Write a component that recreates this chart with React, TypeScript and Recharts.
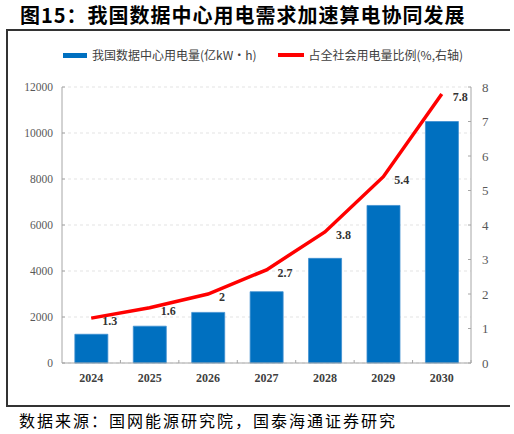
import React from "react";
import {
  ComposedChart,
  Bar,
  Line,
  XAxis,
  YAxis,
  CartesianGrid,
  LabelList,
} from "recharts";

const TITLE = "图15：我国数据中心用电需求加速算电协同发展";
const SOURCE = "数据来源：国网能源研究院，国泰海通证券研究";
const BAR_NAME = "我国数据中心用电量(亿kW·h)";
const LINE_NAME = "占全社会用电量比例(%,右轴)";

const years = ["2024", "2025", "2026", "2027", "2028", "2029", "2030"];
const consumption = [1250, 1600, 2200, 3100, 4550, 6850, 10500];
const share = [1.3, 1.6, 2, 2.7, 3.8, 5.4, 7.8];
const leftTicks = [0, 2000, 4000, 6000, 8000, 10000, 12000];
const rightTicks = [0, 1, 2, 3, 4, 5, 6, 7, 8];

const BAR_COLOR = "#0070C0";
const LINE_COLOR = "#FF0000";
const AXIS_COLOR = "#a6a6a6";
const SERIF = "'Liberation Serif', 'DejaVu Serif', serif";
const CJK = "'Noto Sans CJK SC', sans-serif";

const data = years.map((y, i) => ({
  year: y,
  consumption: consumption[i],
  share: share[i],
}));

const LeftTick = (props: any) => {
  const { x, y, payload } = props;
  const ax = x + 9;
  return (
    <g>
      <line x1={ax} y1={y} x2={ax + 3} y2={y} stroke={AXIS_COLOR} strokeWidth={1} />
      <text
        x={x}
        y={y}
        dy="0.35em"
        textAnchor="end"
        fill="#595959"
        style={{ fontFamily: SERIF, fontSize: 11.5 }}
      >
        {payload.value}
      </text>
    </g>
  );
};

const RightTick = (props: any) => {
  const { x, y, payload } = props;
  const ax = x - 11;
  return (
    <g>
      <line x1={ax} y1={y} x2={ax - 3} y2={y} stroke={AXIS_COLOR} strokeWidth={1} />
      <text
        x={x}
        y={y}
        dy="0.35em"
        textAnchor="start"
        fill="#595959"
        style={{ fontFamily: SERIF, fontSize: 13 }}
      >
        {payload.value}
      </text>
    </g>
  );
};

const BottomTick = (props: any) => {
  const { x, y, payload, index, visibleTicksCount } = props;
  const half =
    payload && typeof payload.offset === "number" && payload.offset > 0
      ? payload.offset
      : 409 / 7 / 2;
  const ay = y - 10;
  const isLast = index === (visibleTicksCount ?? years.length) - 1;
  return (
    <g>
      {index > 0 && (
        <line x1={x - half} y1={ay} x2={x - half} y2={ay - 3} stroke={AXIS_COLOR} strokeWidth={1} />
      )}
      {isLast && (
        <line x1={x + half} y1={ay} x2={x + half} y2={ay - 3} stroke={AXIS_COLOR} strokeWidth={1} />
      )}
      <text
        x={x}
        y={y}
        dy="0.71em"
        textAnchor="middle"
        fill="#404040"
        style={{ fontFamily: SERIF, fontSize: 12, fontWeight: "bold" }}
      >
        {payload.value}
      </text>
    </g>
  );
};

const ShareLabel = (props: any) => {
  const { x, y, value } = props;
  return (
    <text
      x={x + 11}
      y={y + 7}
      textAnchor="start"
      fill="#333333"
      style={{ fontFamily: SERIF, fontSize: 12, fontWeight: "bold" }}
    >
      {value}
    </text>
  );
};

export default function App() {
  return (
    <div
      style={{
        position: "absolute",
        left: 0,
        top: 0,
        width: 514,
        height: 434,
        background: "#fff",
        overflow: "hidden",
      }}
    >
      <div
        style={{
          position: "absolute",
          left: 20,
          top: 5,
          fontFamily: CJK,
          fontWeight: 700,
          fontSize: 20,
          lineHeight: "20px",
          letterSpacing: 1,
          color: "#000",
          whiteSpace: "nowrap",
        }}
      >
        {TITLE}
      </div>
      <div
        style={{
          position: "absolute",
          left: 6,
          top: 29,
          width: 502,
          height: 374,
          borderTop: "2px solid #333",
          borderLeft: "2px solid #333",
          borderBottom: "2px solid #333",
        }}
      />
      <div style={{ position: "absolute", left: 0, top: 0, fontFamily: SERIF }}>
        <ComposedChart
          width={514}
          height={434}
          data={data}
          margin={{ top: 87, right: 13, bottom: 41, left: 12 }}
          barCategoryGap="22%"
        >
          <CartesianGrid
            vertical={false}
            stroke="#e3e3e3"
            strokeDasharray="3 3"
            yAxisId="left"
          />
          <XAxis
            dataKey="year"
            axisLine={{ stroke: AXIS_COLOR }}
            tickLine={false}
            tickSize={0}
            tickMargin={10}
            height={30}
            tick={<BottomTick />}
            interval={0}
          />
          <YAxis
            yAxisId="left"
            orientation="left"
            domain={[0, 12000]}
            ticks={leftTicks}
            width={50}
            axisLine={{ stroke: AXIS_COLOR }}
            tickLine={false}
            tickSize={0}
            tickMargin={9}
            tick={<LeftTick />}
            interval={0}
          />
          <YAxis
            yAxisId="right"
            orientation="right"
            domain={[0, 8]}
            ticks={rightTicks}
            width={30}
            axisLine={{ stroke: AXIS_COLOR }}
            tickLine={false}
            tickSize={0}
            tickMargin={11}
            tick={<RightTick />}
            interval={0}
          />
          <Bar
            yAxisId="left"
            dataKey="consumption"
            name={BAR_NAME}
            fill={BAR_COLOR}
            stroke="#3d8fd1"
            strokeWidth={0.8}
            isAnimationActive={false}
          />
          <Line
            yAxisId="right"
            dataKey="share"
            name={LINE_NAME}
            type="linear"
            stroke={LINE_COLOR}
            strokeWidth={3.5}
            dot={false}
            activeDot={false}
            isAnimationActive={false}
          >
            <LabelList dataKey="share" content={<ShareLabel />} />
          </Line>
        </ComposedChart>
      </div>
      <div
        style={{
          position: "absolute",
          left: 63,
          top: 47,
          display: "flex",
          alignItems: "center",
          fontFamily: CJK,
          fontSize: 12,
          lineHeight: "16px",
          color: "#404040",
          whiteSpace: "nowrap",
        }}
      >
        <span style={{ display: "inline-block", width: 24, height: 5, background: BAR_COLOR, marginRight: 5 }} />
        <span>{BAR_NAME}</span>
        <span style={{ display: "inline-block", width: 26, height: 4, background: LINE_COLOR, marginLeft: 21, marginRight: 5 }} />
        <span>{LINE_NAME}</span>
      </div>
      <div
        style={{
          position: "absolute",
          left: 19,
          top: 412,
          fontFamily: CJK,
          fontSize: 16,
          lineHeight: "17px",
          letterSpacing: 2,
          color: "#000",
          whiteSpace: "nowrap",
        }}
      >
        {SOURCE}
      </div>
    </div>
  );
}
